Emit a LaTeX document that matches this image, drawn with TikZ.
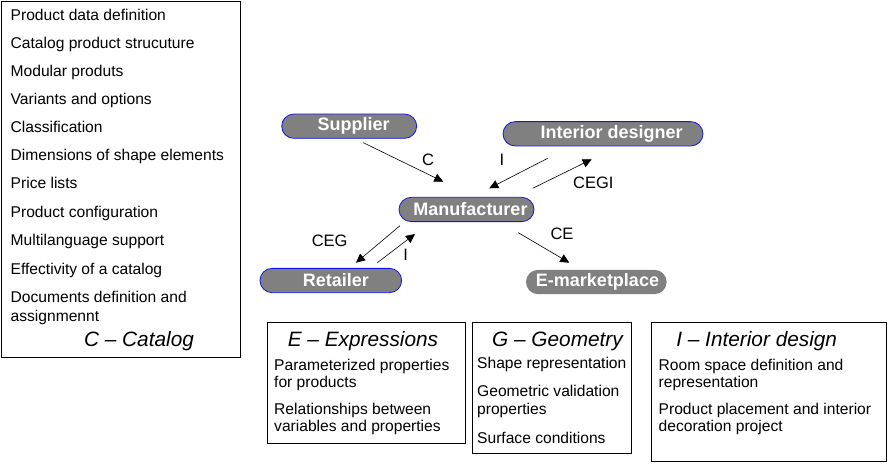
\documentclass[tikz,border=0pt]{standalone}
\usepackage{fontspec}
\setmainfont{Liberation Sans}
\usetikzlibrary{shapes.misc,arrows.meta}
\definecolor{pillgray}{RGB}{128,128,128}
\definecolor{pillblue}{RGB}{20,20,230}
\tikzset{
  item/.style={anchor=base west,inner sep=0pt,font=\fontsize{15.6}{18}\selectfont},
  ttl/.style={anchor=base,inner sep=0pt,font=\fontsize{20.8}{24}\selectfont\itshape},
  frame/.style={draw=black,line width=0.8pt,inner sep=0pt},
  pill/.style={rounded rectangle,fill=pillgray,draw=pillblue,line width=0.8pt,
    inner sep=0pt,minimum height=24.3pt,text=white,font=\fontsize{18}{20}\selectfont\bfseries},
  conn/.style={line width=0.6pt,-{Triangle[length=9pt,width=8.5pt]}},
  lbl/.style={inner sep=0pt,font=\fontsize{16.5}{19}\selectfont}
}
\begin{document}
\begin{tikzpicture}[x=1pt,y=-1pt]
\useasboundingbox (0,0) rectangle (889,465);
% frames
\node[frame,minimum width=239pt,minimum height=356pt] (cbox) at (121,179.5) {};
\node[frame,minimum width=198pt,minimum height=121.5pt] (ebox) at (366,382.75) {};
\node[frame,minimum width=159pt,minimum height=131.5pt] (gbox) at (552,387.75) {};
\node[frame,minimum width=235pt,minimum height=139.5pt] (ibox) at (768.75,391.75) {};
% catalog list
\foreach \t/\y [count=\i] in {Product data definition/20.7,Catalog product strucuture/48.3,
  Modular produts/76.5,Variants and options/104.7,Classification/133,
  Dimensions of shape elements/161,Price lists/189,Product configuration/217.3,
  Multilanguage support/245.7,Effectivity of a catalog/274,
  Documents definition and/302.3,assignmennt/321.7}
  \node[item] (c\i) at (10.5,\y) {\t};
\node[ttl] (ctitle) at (139,346.7) {C \textendash{} Catalog};
% E box
\node[ttl] (etitle) at (363,346.7) {E \textendash{} Expressions};
\foreach \t/\y [count=\i] in {Parameterized properties/370,for products/387.7,
  Relationships between/414,variables and properties/431.7}
  \node[item] (e\i) at (274,\y) {\t};
% G box
\node[ttl] (gtitle) at (557.5,346.7) {G \textendash{} Geometry};
\foreach \t/\y [count=\i] in {Shape representation/368.3,Geometric validation/396.7,
  properties/414.3,Surface conditions/443.3}
  \node[item] (g\i) at (477,\y) {\t};
% I box
\node[ttl] (ititle) at (756.7,346.7) {I \textendash{} Interior design};
\foreach \t/\y [count=\i] in {Room space definition and/370,representation/387.7,
  Product placement and interior/414,decoration project/431.7}
  \node[item] (i\i) at (658.5,\y) {\t};
% pills
\node[pill,minimum width=135pt] (sup) at (349.2,126.2) {\hspace*{8.8pt}Supplier};
\node[pill,minimum width=200pt] (ides) at (603,133.8) {\hspace*{17.4pt}Interior designer};
\node[pill,minimum width=135pt] (man) at (466.5,209.5) {\hspace*{8pt}Manufacturer};
\node[pill,minimum width=141.7pt] (ret) at (330.8,280.5) {\hspace*{10pt}Retailer};
\node[pill,minimum width=140.7pt,draw=none] (emk) at (596.3,282) {\hspace*{2.4pt}E-marketplace};
% connector end points
\coordinate (a1s) at (363.3,142.7); \coordinate (a1e) at (443.3,181.7);
\coordinate (a2s) at (547.7,158.3); \coordinate (a2e) at (489.3,188.3);
\coordinate (a3s) at (532.7,188.3); \coordinate (a3e) at (591.7,159.3);
\coordinate (a4s) at (400,225.7);   \coordinate (a4e) at (356,262.7);
\coordinate (a5s) at (377.3,262.7); \coordinate (a5e) at (415,234);
\coordinate (a6s) at (518.3,232.7); \coordinate (a6e) at (569.3,262.7);
\draw[conn] (a1s) -- (a1e);
\draw[conn] (a2s) -- (a2e);
\draw[conn] (a3s) -- (a3e);
\draw[conn] (a4s) -- (a4e);
\draw[conn] (a5s) -- (a5e);
\draw[conn] (a6s) -- (a6e);
% labels
\node[lbl] (l1) at (428,160) {C};
\node[lbl] (l2) at (502,160) {I};
\node[lbl] (l3) at (593.3,182.8) {CEGI};
\node[lbl] (l4) at (329.7,240.8) {CEG};
\node[lbl] (l5) at (405.7,255) {I};
\node[lbl] (l6) at (562,233.5) {CE};
\end{tikzpicture}
\end{document}
